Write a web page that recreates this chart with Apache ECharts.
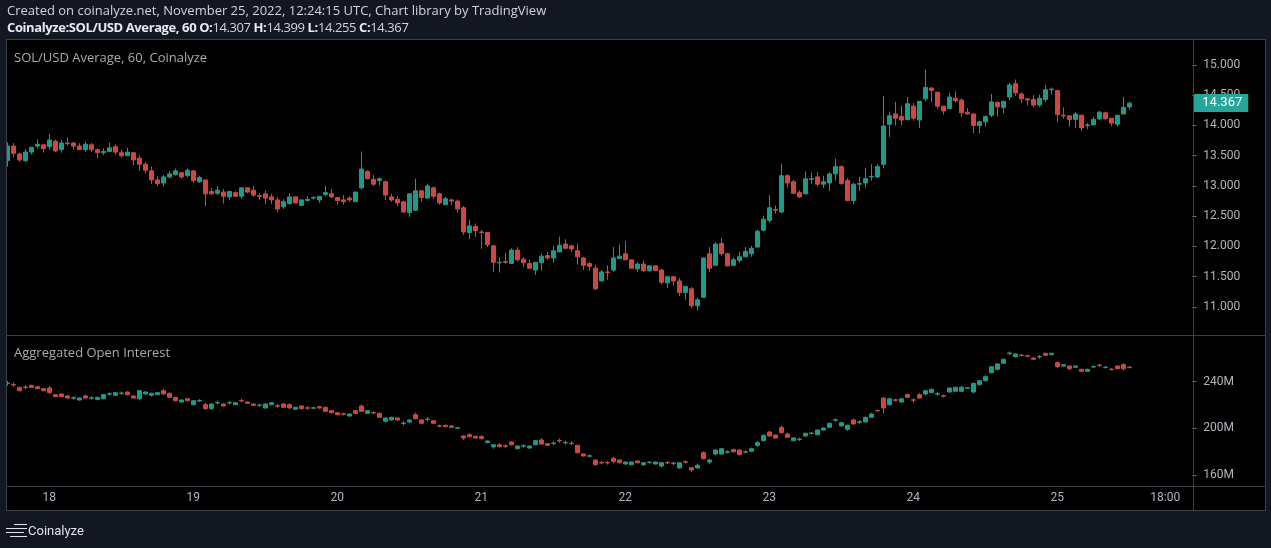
<!DOCTYPE html>
<html>
<head>
<meta charset="utf-8">
<title>SOL/USD Average, 60, Coinalyze</title>
<script src="https://cdn.jsdelivr.net/npm/echarts@6/dist/echarts.min.js"></script>
<style>
  html, body { margin: 0; padding: 0; background: #131722; }
  #wrap { position: relative; width: 1271px; height: 548px; overflow: hidden; font-family: 'Open Sans', sans-serif; }
  #frame { position: absolute; left: 6px; top: 39px; width: 1260px; height: 472px; background: #000; }
  #chart { position: absolute; left: 0; top: 0; width: 1271px; height: 548px; }
  .line { position: absolute; background: #3a3e48; z-index: 3; }
  .mask { position: absolute; background: #131722; z-index: 2; }
  .hdr { position: absolute; left: 7px; white-space: nowrap; color: #d1d4dc; font-size: 13px; line-height: 16px; z-index: 4; }
  .hdr b { color: #e8eaf0; }
  .pane { position: absolute; left: 14px; white-space: nowrap; color: #a8abb4; font-size: 13px; line-height: 16px; z-index: 4; }
  #foot { position: absolute; left: 28px; top: 523px; font-family: Roboto, sans-serif; font-size: 13px; line-height: 16px; color: #e0e3eb; z-index: 4; }
  .bar { position: absolute; height: 1px; background: #e0e3eb; z-index: 4; }
</style>
</head>
<body>
<div id="wrap">
  <div class="hdr" style="top:2px">Created on coinalyze.net, November 25, 2022, 12:24:15 UTC, Chart library by TradingView</div>
  <div class="hdr" style="top:19px;letter-spacing:-0.4px"><b>Coinalyze:SOL/USD Average, 60 O:</b>14.307 <b>H:</b>14.399 <b>L:</b>14.255 <b>C:</b>14.367</div>
  <div id="frame"></div>
  <div id="chart"></div>
  <div class="mask" style="left:0;top:39px;width:6px;height:472px"></div>
  <div class="line" style="left:6px;top:39px;width:1260px;height:1px"></div>
  <div class="line" style="left:6px;top:510px;width:1260px;height:1px"></div>
  <div class="line" style="left:6px;top:39px;width:1px;height:472px"></div>
  <div class="line" style="left:1265px;top:39px;width:1px;height:472px"></div>
  <div class="line" style="left:7px;top:335px;width:1258px;height:1px"></div>
  <div class="line" style="left:7px;top:486px;width:1258px;height:1px"></div>
  <div class="line" style="left:1193px;top:40px;width:1px;height:470px"></div>
  <div class="pane" style="top:49px">SOL/USD Average, 60, Coinalyze</div>
  <div class="pane" style="top:344px">Aggregated Open Interest</div>
  <div class="bar" style="left:14px;top:524px;width:13px"></div>
  <div class="bar" style="left:6px;top:528px;width:21px"></div>
  <div class="bar" style="left:6px;top:532px;width:18px"></div>
  <div class="bar" style="left:10px;top:536px;width:17px"></div>
  <div id="foot">Coinalyze</div>
</div>
<script>
// hourly candles, Nov 17 17:00 UTC -> Nov 25 12:00 UTC
const priceOpen = [
  13.42,13.66,13.53,13.42,13.56,13.66,13.68,13.65,13.74,13.60,
  13.71,13.71,13.66,13.60,13.68,13.60,13.55,13.57,13.65,13.55,
  13.50,13.55,13.46,13.36,13.25,13.10,13.05,13.15,13.19,13.22,
  13.17,13.25,13.07,13.10,12.91,12.88,12.90,12.82,12.89,12.83,
  12.97,12.93,12.84,12.87,12.82,12.77,12.66,12.71,12.82,12.68,
  12.76,12.80,12.77,12.86,12.87,12.81,12.77,12.80,12.74,12.97,
  13.24,13.11,13.09,13.07,12.82,12.78,12.74,12.56,12.60,12.92,
  12.80,12.97,12.87,12.69,12.77,12.75,12.64,12.23,12.33,12.24,
  12.23,12.01,11.73,11.75,11.72,11.94,11.79,11.72,11.61,11.73,
  11.85,11.81,11.91,12.04,12.01,11.93,11.81,11.72,11.64,11.43,
  11.58,11.61,11.80,11.88,11.78,11.63,11.71,11.60,11.68,11.61,
  11.40,11.50,11.43,11.24,11.30,11.02,11.16,11.88,11.69,12.05,
  11.88,11.69,11.77,11.83,11.88,11.99,12.27,12.43,12.61,12.57,
  13.17,13.07,12.89,12.87,13.11,13.15,13.03,13.05,13.20,13.32,
  13.09,12.76,13.03,13.05,13.15,13.15,13.36,14.02,14.19,14.15,
  14.10,14.32,14.09,14.44,14.62,14.55,14.32,14.28,14.45,14.42,
  14.22,14.19,14.00,14.06,14.17,14.38,14.30,14.47,14.69,14.52,
  14.44,14.43,14.34,14.43,14.59,14.58,14.17,14.16,14.10,14.17,
  14.00,14.01,14.11,14.21,14.12,14.02,14.19,14.307
];
const priceHigh = [
  13.72,13.71,13.55,13.61,13.64,13.77,13.68,13.86,13.77,13.76,
  13.80,13.73,13.71,13.73,13.71,13.62,13.62,13.72,13.69,13.60,
  13.63,13.56,13.51,13.40,13.32,13.16,13.18,13.24,13.29,13.22,
  13.29,13.26,13.17,13.10,12.97,13.00,12.95,12.92,12.91,12.97,
  12.97,13.00,12.88,12.93,12.87,12.82,12.78,12.88,12.83,12.78,
  12.83,12.83,12.83,13.00,12.95,12.82,12.85,12.83,12.90,13.57,
  13.26,13.18,13.14,13.09,12.87,12.83,12.74,12.87,13.12,12.92,
  13.04,12.99,12.89,12.82,12.79,12.78,12.67,12.44,12.38,12.27,
  12.23,12.03,11.82,11.90,11.97,11.99,11.82,11.78,11.74,11.88,
  11.91,12.01,12.16,12.12,12.03,12.05,11.83,11.75,11.70,11.61,
  11.69,11.99,12.03,12.09,11.78,11.74,11.77,11.68,11.68,11.63,
  11.51,11.50,11.48,11.34,11.33,11.16,11.82,11.99,12.07,12.14,
  11.90,11.82,11.91,11.99,12.01,12.28,12.51,12.85,12.68,13.37,
  13.19,13.10,12.93,13.24,13.22,13.23,13.17,13.23,13.45,13.34,
  13.13,13.05,13.15,13.30,13.36,13.36,14.49,14.23,14.39,14.33,
  14.47,14.37,14.40,14.92,14.63,14.56,14.32,14.54,14.56,14.45,
  14.29,14.20,14.08,14.16,14.52,14.40,14.40,14.71,14.76,14.55,
  14.44,14.50,14.51,14.67,14.63,14.58,14.30,14.16,14.22,14.17,
  14.04,14.14,14.24,14.23,14.12,14.17,14.47,14.399
];
const priceLow = [
  13.32,13.47,13.40,13.39,13.52,13.62,13.55,13.60,13.56,13.55,
  13.67,13.60,13.60,13.56,13.56,13.46,13.51,13.56,13.52,13.47,
  13.50,13.34,13.25,13.21,13.03,13.00,12.99,13.12,13.17,13.12,
  13.15,13.05,13.05,12.67,12.86,12.85,12.71,12.77,12.82,12.79,
  12.88,12.82,12.77,12.70,12.70,12.57,12.62,12.69,12.72,12.66,
  12.74,12.77,12.72,12.83,12.80,12.69,12.69,12.74,12.74,12.94,
  13.11,13.00,13.01,12.77,12.74,12.67,12.56,12.49,12.59,12.74,
  12.80,12.79,12.69,12.69,12.69,12.56,12.19,12.12,12.16,11.96,
  11.99,11.58,11.57,11.71,11.71,11.75,11.66,11.63,11.53,11.60,
  11.78,11.73,11.91,11.95,11.91,11.70,11.61,11.60,11.28,11.43,
  11.45,11.58,11.80,11.78,11.64,11.58,11.58,11.58,11.60,11.37,
  11.31,11.36,11.18,11.12,10.98,10.94,11.15,11.58,11.67,11.84,
  11.67,11.67,11.73,11.83,11.83,11.99,12.25,12.39,12.54,12.55,
  12.97,12.87,12.80,12.86,13.03,12.99,12.97,12.92,13.09,13.02,
  12.76,12.70,12.92,12.97,13.09,13.13,13.29,13.81,14.00,14.00,
  14.08,14.08,13.96,14.40,14.39,14.28,14.18,14.28,14.38,14.14,
  14.18,13.87,13.87,13.98,14.14,14.15,14.20,14.42,14.49,14.37,
  14.33,14.30,14.31,14.39,14.51,14.06,14.11,13.98,13.96,13.91,
  13.94,14.01,14.09,14.10,13.99,13.98,14.19,14.255
];
const priceClose = [
  13.66,13.54,13.43,13.56,13.64,13.69,13.62,13.76,13.58,13.71,
  13.70,13.66,13.60,13.69,13.60,13.55,13.57,13.63,13.56,13.50,
  13.56,13.43,13.36,13.26,13.10,13.04,13.15,13.20,13.25,13.15,
  13.26,13.09,13.14,12.87,12.87,12.93,12.83,12.91,12.83,12.97,
  12.90,12.85,12.83,12.80,12.77,12.62,12.74,12.82,12.72,12.77,
  12.78,12.81,12.83,12.89,12.82,12.76,12.74,12.77,12.90,13.28,
  13.12,13.03,13.12,12.85,12.77,12.72,12.57,12.87,12.92,12.81,
  13.00,12.83,12.72,12.79,12.75,12.62,12.24,12.34,12.26,12.23,
  12.03,11.74,11.74,11.74,11.94,11.78,11.73,11.64,11.74,11.84,
  11.81,11.93,12.02,11.97,11.96,11.83,11.69,11.67,11.30,11.58,
  11.57,11.81,11.84,11.78,11.64,11.71,11.60,11.68,11.60,11.41,
  11.50,11.43,11.24,11.34,11.02,11.12,11.81,11.64,12.04,11.88,
  11.68,11.78,11.83,11.92,11.97,12.25,12.45,12.64,12.60,13.17,
  13.05,12.88,12.82,13.12,13.12,13.03,13.07,13.20,13.32,13.04,
  12.76,13.03,13.04,13.12,13.16,13.32,13.99,14.16,14.12,14.09,
  14.36,14.12,14.40,14.63,14.58,14.32,14.24,14.47,14.41,14.21,
  14.19,14.00,14.06,14.15,14.39,14.31,14.40,14.67,14.54,14.44,
  14.42,14.34,14.45,14.59,14.60,14.18,14.16,14.10,14.19,13.96,
  14.01,14.10,14.22,14.11,14.04,14.17,14.30,14.367
];

// aggregated open interest, millions USD
const oiOpen = [
  238.4,237.6,235.2,235.4,236.9,235.7,234.0,234.6,228.9,229.5,
  227.8,225.8,224.3,227.8,225.8,224.9,225.4,229.3,228.4,229.9,
  231.2,227.8,225.4,229.5,228.4,228.9,232.3,230.1,226.6,222.6,
  225.4,220.3,223.5,220.3,216.9,221.8,220.9,221.8,220.3,223.9,
  222.6,220.9,219.6,217.5,220.3,219.4,220.9,220.3,216.4,219.2,
  217.7,217.3,218.6,218.1,215.2,213.4,212.5,210.6,215.2,219.2,
  212.9,213.6,212.9,206.1,207.2,208.9,204.2,205.5,211.7,207.2,
  207.6,206.6,202.3,202.7,202.1,200.1,193.5,194.6,193.2,192.9,
  187.8,184.3,186.0,185.1,188.4,182.6,184.7,183.2,186.0,190.1,
  186.9,187.0,189.7,187.6,187.4,185.5,178.1,176.2,172.9,170.8,
  170.8,174.3,172.9,169.5,168.9,172.1,168.9,170.7,169.5,167.8,
  170.8,169.9,166.1,171.4,166.3,166.1,179.2,171.2,178.1,178.1,
  179.6,181.8,181.5,179.6,180.4,185.5,189.5,196.9,194.3,200.9,
  195.2,189.5,190.5,193.5,195.6,194.6,198.6,200.9,207.0,202.1,
  199.2,207.2,205.3,205.5,209.5,215.4,226.0,220.3,224.5,222.6,
  228.9,224.5,228.9,229.5,230.6,229.3,228.0,231.2,231.8,231.8,
  234.4,231.2,237.4,240.9,247.7,250.6,255.8,264.1,261.4,262.8,
  262.2,260.3,261.2,264.3,263.1,256.3,253.4,253.4,252.3,250.6,
  248.9,252.6,254.2,252.1,250.8,253.4,254.6,252.5
];
const oiHigh = [
  240.6,239.4,235.7,237.0,237.3,236.2,234.5,236.3,229.4,230.0,
  228.3,227.5,226.5,229.0,227.5,227.1,229.4,231.0,231.1,231.6,
  231.7,228.3,233.0,231.7,230.6,231.1,233.8,230.6,227.1,224.8,
  225.9,224.2,225.0,222.0,221.4,223.7,221.4,223.5,222.5,225.4,
  223.1,221.4,221.2,221.4,222.5,220.8,221.4,221.5,218.6,219.7,
  219.0,218.5,219.1,218.6,215.7,213.9,213.5,212.8,215.7,220.5,
  215.7,214.8,213.4,209.4,210.0,209.4,206.2,207.7,213.4,208.0,
  209.8,207.1,203.2,203.2,202.6,201.3,194.0,196.0,193.7,194.3,
  189.7,186.5,187.2,186.4,188.9,185.4,186.5,185.4,190.0,191.8,
  187.4,189.0,191.5,189.5,189.0,186.0,178.6,177.6,173.4,172.0,
  172.0,175.5,173.4,171.7,171.7,172.6,171.1,172.1,171.7,171.1,
  171.8,171.5,171.1,172.8,166.8,169.8,180.4,174.2,182.0,183.1,
  181.2,182.6,182.0,181.2,183.6,189.2,194.6,198.0,194.8,202.4,
  196.3,192.3,192.2,196.3,196.8,199.1,200.8,204.9,208.7,205.4,
  203.2,208.3,207.2,210.0,213.5,216.0,226.5,225.9,225.4,225.9,
  230.0,225.9,230.3,232.8,234.0,231.2,229.0,235.1,235.7,236.4,
  235.3,239.1,241.4,245.5,253.3,255.7,259.7,266.0,264.2,263.5,
  263.0,260.8,262.9,264.8,264.8,257.5,255.1,253.9,253.9,251.1,
  251.1,253.8,255.3,253.3,251.6,253.9,255.9,253.3
];
const oiLow = [
  236.6,235.4,231.8,233.2,234.8,233.5,231.8,229.6,226.7,226.7,
  225.5,224.5,223.8,225.5,224.5,224.0,224.9,228.0,228.0,228.6,
  228.4,225.5,224.0,229.0,227.3,228.4,229.0,226.1,223.2,222.1,
  223.2,219.8,222.5,216.0,216.0,220.5,218.7,220.5,219.8,222.2,
  221.0,219.3,218.5,217.0,219.8,217.5,217.6,217.0,215.9,216.4,
  216.0,216.5,217.0,214.1,212.9,211.2,211.0,210.1,212.4,214.1,
  212.4,212.0,209.0,204.9,206.7,206.7,202.6,204.4,207.8,203.9,
  206.0,203.9,201.0,201.0,200.4,199.3,190.1,192.4,191.3,190.7,
  187.3,182.6,183.8,183.2,185.5,182.1,183.5,182.7,185.5,186.1,
  185.0,185.5,187.5,186.0,185.5,178.7,175.9,175.2,168.0,169.2,
  169.0,170.0,170.1,169.0,168.4,170.1,167.8,169.7,169.0,166.5,
  169.5,168.5,165.6,170.0,162.7,165.6,173.5,169.5,176.9,177.6,
  178.5,179.5,177.0,178.5,179.9,184.2,189.0,193.0,191.3,195.8,
  191.9,189.0,189.0,193.0,194.8,194.1,198.1,200.4,205.7,201.6,
  197.9,203.3,203.8,205.0,209.0,214.5,213.0,219.4,222.9,222.1,
  226.1,222.0,225.5,228.2,230.1,228.0,226.5,230.7,231.3,231.3,
  233.8,230.0,236.9,240.4,247.2,249.6,255.3,262.8,260.6,261.7,
  261.0,258.7,259.6,262.1,262.6,251.6,252.9,250.0,251.8,248.2,
  248.4,251.8,252.8,251.3,249.6,250.6,249.4,251.3
];
const oiClose = [
  238.8,237.2,232.3,235.0,235.2,234.0,232.3,230.6,227.2,227.2,
  226.0,226.2,226.0,226.0,226.2,226.6,228.9,229.7,230.6,230.3,
  228.9,226.0,232.3,231.2,230.1,230.6,229.5,226.6,223.7,224.3,
  223.7,223.7,223.9,216.9,220.9,222.2,219.2,222.2,222.0,223.5,
  221.5,219.8,220.0,220.9,222.0,219.0,218.1,217.5,218.1,216.9,
  217.3,217.7,217.5,214.6,213.4,211.7,212.1,212.3,212.9,214.6,
  215.2,213.2,209.5,208.9,209.5,207.2,204.6,207.2,208.3,204.4,
  208.0,204.4,201.9,201.5,200.9,200.5,191.8,192.9,191.8,191.2,
  189.2,186.0,184.3,184.7,186.0,184.9,185.1,184.9,189.5,186.6,
  185.5,187.4,189.3,188.0,187.0,179.2,176.4,176.6,168.9,170.4,
  170.4,171.8,170.6,171.2,171.2,170.6,170.6,171.1,171.2,170.6,
  170.4,170.3,170.6,171.0,164.4,168.4,174.0,172.9,181.5,182.6,
  180.0,180.0,177.5,180.0,182.6,187.8,194.1,193.5,191.8,196.3,
  192.4,191.8,190.9,195.8,196.0,198.6,200.3,204.4,207.4,204.9,
  202.7,203.8,205.7,209.5,212.3,215.0,217.5,225.4,224.1,225.4,
  226.6,224.1,226.0,232.3,233.5,229.7,227.6,234.6,235.2,235.2,
  234.8,238.6,240.9,244.3,252.8,255.2,259.2,264.5,263.7,262.4,
  261.8,259.2,261.6,262.6,264.3,252.8,254.6,251.1,253.4,248.9,
  250.6,253.0,253.8,252.5,250.4,251.1,251.1,252.1
];

const priceTicks = [11, 11.5, 12, 12.5, 13, 13.5, 14, 14.5, 15];
const oiTicks = [160, 200, 240];
const lastPrice = 14.367;

// hour slots on the time axis (past candles + empty space up to the right scale)
const startHour = Date.UTC(2022, 10, 17, 17);
const slotCount = 198;
const hours = [];
for (let k = 0; k < slotCount; k++) {
  const d = new Date(startHour + k * 3600000);
  hours.push(d.getUTCDate() + ' ' + String(d.getUTCHours()).padStart(2, '0') + ':00');
}
const showTick = (i, v) => v.endsWith(' 00:00') || v === '25 18:00';

const up = '#1f9a89', down = '#cf4743';
const tagColor = '#26a69a';
const axisText = '#b2b5be';
const slot = 6, gridLeft = 4.3;

const chart = echarts.init(document.getElementById('chart'));

const candleStyle = { color: up, color0: down, borderColor: up, borderColor0: down, borderWidth: 1 };

chart.setOption({
  animation: false,
  backgroundColor: 'transparent',
  grid: [
    { left: gridLeft, top: 40, width: slot * slotCount, height: 295 },
    { left: gridLeft, top: 336, width: slot * slotCount, height: 150 },
    { left: gridLeft, top: 486, width: slot * slotCount, height: 24 }
  ],
  xAxis: [
    { type: 'category', gridIndex: 0, data: hours, show: false },
    { type: 'category', gridIndex: 1, data: hours, show: false },
    {
      type: 'category', gridIndex: 2, data: hours, position: 'top',
      axisLine: { show: false },
      axisTick: { inside: true, length: 4, alignWithLabel: true, interval: showTick, lineStyle: { color: '#787b86' } },
      axisLabel: {
        inside: true, margin: 6, interval: showTick, color: axisText, fontSize: 12, fontFamily: 'Roboto',
        formatter: v => v.endsWith(' 00:00') ? v.split(' ')[0] : v.split(' ')[1]
      }
    }
  ],
  yAxis: [
    {
      type: 'value', gridIndex: 0, position: 'right', min: 10.537, max: 15.413, scale: true,
      axisLine: { show: false }, splitLine: { show: false },
      axisTick: { show: true, length: 4, customValues: priceTicks, lineStyle: { color: '#787b86' } },
      axisLabel: { customValues: priceTicks, margin: 11, color: axisText, fontSize: 12, fontFamily: 'Roboto', formatter: v => v.toFixed(3) }
    },
    {
      type: 'value', gridIndex: 1, position: 'right', min: 150.67, max: 279.14, scale: true,
      axisLine: { show: false }, splitLine: { show: false },
      axisTick: { show: true, length: 4, customValues: oiTicks, lineStyle: { color: '#787b86' } },
      axisLabel: { customValues: oiTicks, margin: 11, color: axisText, fontSize: 12, fontFamily: 'Roboto', formatter: v => v + 'M' }
    },
    { type: 'value', gridIndex: 2, show: false }
  ],
  series: [
    {
      name: 'SOL/USD', type: 'candlestick', xAxisIndex: 0, yAxisIndex: 0, barWidth: 4,
      clip: false, z: 5,
      itemStyle: candleStyle,
      data: priceOpen.map((o, i) => [o, priceClose[i], priceLow[i], priceHigh[i]]),
      markLine: {
        silent: true, symbol: ['none', 'none'], z: 10,
        lineStyle: { color: 'rgba(0,0,0,0)', width: 1, type: 'solid' },
        label: {
          show: true, position: 'end', distance: 1, formatter: lastPrice.toFixed(3),
          backgroundColor: tagColor, color: '#ffffff', fontSize: 13, fontFamily: 'Roboto',
          padding: [3, 6, 2, 9], opacity: 1
        },
        emphasis: { disabled: true },
        data: [{ yAxis: lastPrice }]
      }
    },
    {
      name: 'Open Interest', type: 'candlestick', xAxisIndex: 1, yAxisIndex: 1, barWidth: 4,
      itemStyle: candleStyle,
      data: oiOpen.map((o, i) => [o, oiClose[i], oiLow[i], oiHigh[i]])
    }
  ]
});
</script>
</body>
</html>
